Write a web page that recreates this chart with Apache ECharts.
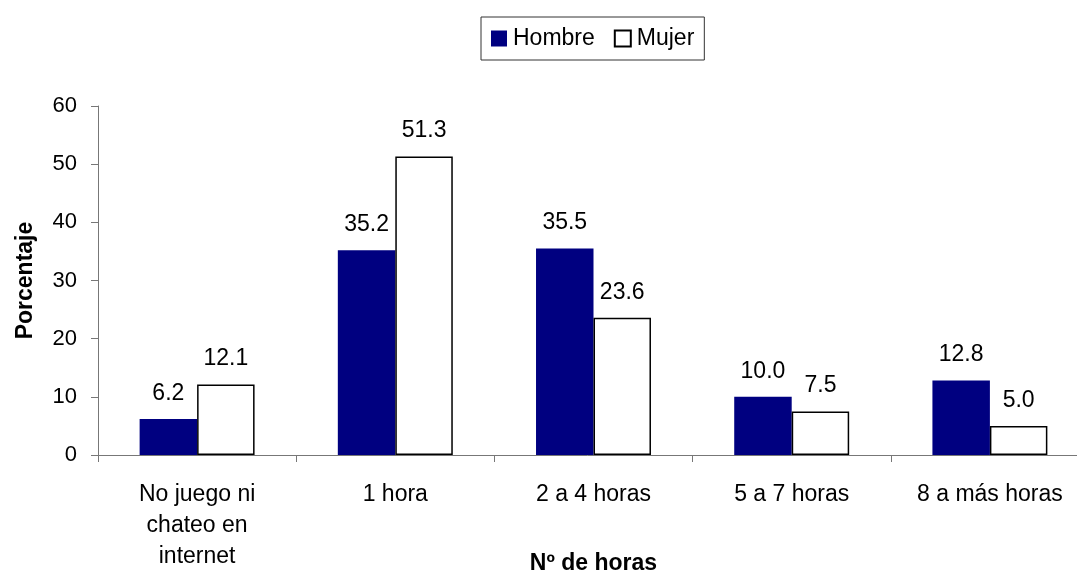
<!DOCTYPE html>
<html>
<head>
<meta charset="utf-8">
<script src="https://cdn.jsdelivr.net/npm/echarts@6/dist/echarts.min.js"></script>
<style>
  html, body { margin: 0; padding: 0; background: #fff; }
  #main { width: 1077px; height: 571px; }
</style>
</head>
<body>
<div id="main"></div>
<script>
// datos
var categorias = ['No juego ni\nchateo en\ninternet', '1 hora', '2 a 4 horas', '5 a 7 horas', '8 a más horas'];
var hombre = [6.2, 35.2, 35.5, 10.0, 12.8];
var mujer = [12.1, 51.3, 23.6, 7.5, 5.0];
var yTicks = [0, 10, 20, 30, 40, 50, 60];

var fuente = 'Liberation Sans, Arial, sans-serif';
var chart = echarts.init(document.getElementById('main'));

var etiqueta = {
  show: true,
  position: 'top',
  distance: 14,
  fontFamily: fuente,
  fontSize: 23,
  color: '#000',
  formatter: function (p) { return p.value.toFixed(1); }
};

var option = {
  animation: false,
  backgroundColor: '#fff',
  textStyle: { fontFamily: fuente },
  legend: {
    top: 17,
    left: 481,
    padding: [10, 10, 10, 10],
    borderColor: '#333',
    borderWidth: 1,
    itemWidth: 16,
    itemHeight: 16,
    itemGap: 19,
    icon: 'rect',
    textStyle: { fontFamily: fuente, fontSize: 23, color: '#000', padding: [0, 0, 0, 1] },
    data: ['Hombre', 'Mujer']
  },
  grid: { left: 98, right: -12, top: 106, bottom: 116, outerBoundsMode: 'none' },
  xAxis: {
    type: 'category',
    data: categorias,
    name: 'Nº de horas',
    nameLocation: 'middle',
    nameGap: 97,
    nameMoveOverlap: false,
    nameTextStyle: { fontFamily: fuente, fontSize: 23, fontWeight: 'bold', color: '#000' },
    axisLine: { lineStyle: { color: '#777', width: 1 } },
    axisTick: { show: true, length: 7, lineStyle: { color: '#777' } },
    axisLabel: { color: '#000', fontSize: 23, fontFamily: fuente, margin: 24, lineHeight: 31, interval: 0 }
  },
  yAxis: {
    type: 'value',
    min: yTicks[0],
    max: yTicks[yTicks.length - 1],
    interval: 10,
    name: 'Porcentaje',
    nameLocation: 'middle',
    nameGap: 61,
    nameRotate: 90,
    nameMoveOverlap: false,
    nameTextStyle: { fontFamily: fuente, fontSize: 23, fontWeight: 'bold', color: '#000' },
    splitLine: { show: false },
    axisLine: { show: true, lineStyle: { color: '#777', width: 1 } },
    axisTick: { show: true, length: 7, lineStyle: { color: '#777' } },
    axisLabel: { color: '#000', fontSize: 22, fontFamily: fuente, margin: 21 }
  },
  series: [
    {
      name: 'Hombre',
      type: 'bar',
      data: hombre,
      barGap: '0%',
      barCategoryGap: '42%',
      itemStyle: { color: '#000080' },
      label: etiqueta
    },
    {
      name: 'Mujer',
      type: 'bar',
      data: mujer,
      itemStyle: { color: '#fff', borderColor: '#000', borderWidth: 1.5 },
      label: etiqueta
    }
  ]
};

chart.setOption(option);
</script>
</body>
</html>
